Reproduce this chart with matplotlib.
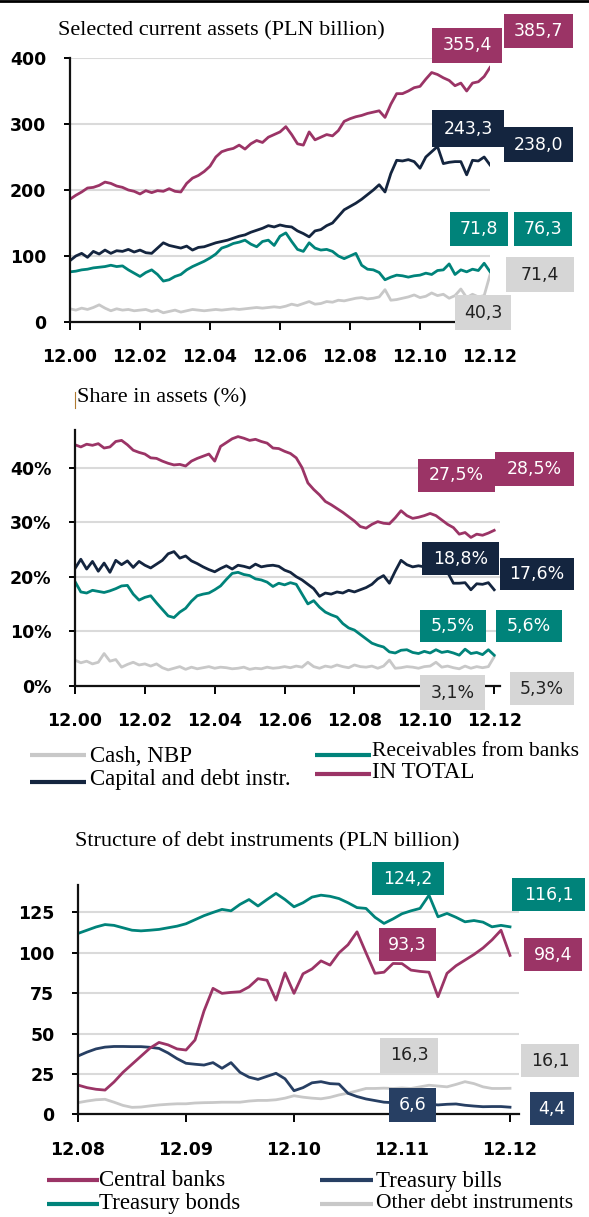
import numpy as np
import matplotlib
matplotlib.use("Agg")
import matplotlib.pyplot as plt
from matplotlib.lines import Line2D
from matplotlib.patches import Rectangle

# ---- data -------------------------------------------------------------
# top and middle panels: every 2 months from 12.00 (month 0) to 12.12 (month 144)
assets_total = [186, 192, 197, 203, 204, 207, 212, 210, 206, 204, 200, 198,
                194, 199, 196, 199, 198, 202, 198, 197, 210, 218, 222, 228,
                236, 250, 258, 261, 263, 268, 262, 270, 275, 272, 280, 284,
                288, 296, 284, 270, 268, 288, 276, 280, 284, 282, 290, 304,
                308, 311, 313, 316, 318, 320, 310, 330, 346, 346, 350, 355,
                357, 368, 378, 375, 370, 366, 358, 362, 350, 362, 364, 372,
                385.7]
assets_capital = [93, 100, 104, 98, 107, 103, 109, 104, 108, 107, 110, 106,
                  109, 105, 104, 112, 120, 116, 114, 112, 115, 109, 113, 114,
                  117, 120, 122, 124, 127, 130, 132, 136, 139, 142, 146, 144,
                  147, 145, 144, 138, 134, 129, 138, 140, 146, 150, 160, 170,
                  175, 180, 186, 193, 200, 208, 197, 225, 245, 244, 246, 243,
                  233, 250, 258, 266, 240, 242, 243, 243, 223, 245, 244, 250,
                  238.0]
assets_recv = [76, 77, 79, 80, 82, 83, 84, 86, 84, 85, 79, 74,
               69, 75, 79, 72, 62, 64, 69, 72, 79, 84, 88, 92,
               97, 103, 112, 115, 119, 121, 124, 118, 114, 122, 124, 116,
               130, 135, 122, 110, 107, 120, 112, 109, 110, 107, 100, 96,
               100, 104, 86, 80, 79, 75, 64, 68, 71, 70, 68, 70,
               71, 74, 72, 78, 79, 88, 72, 79, 76, 80, 78, 89,
               76.3]
assets_cash = [20, 18, 21, 19, 22, 26, 21, 17, 20, 18, 19, 17,
               18, 19, 16, 18, 14, 16, 18, 15, 17, 19, 18, 17,
               18, 19, 18, 19, 20, 19, 20, 21, 22, 21, 22, 23,
               22, 24, 27, 25, 28, 31, 27, 28, 31, 30, 33, 32,
               34, 36, 37, 35, 36, 38, 49, 33, 34, 36, 38, 41,
               37, 39, 44, 40, 42, 36, 40, 50, 37, 42, 38, 40,
               71.4]

share_total = [44.2, 43.8, 44.3, 44.1, 44.4, 43.6, 43.8, 44.8, 45.0, 44.2, 43.2, 42.8,
               42.5, 41.8, 41.7, 41.2, 40.8, 40.5, 40.6, 40.3, 41.2, 41.7, 42.1, 42.5,
               41.2, 43.9, 44.6, 45.3, 45.7, 45.4, 45.0, 45.2, 44.8, 44.5, 43.6, 43.5,
               43.0, 42.6, 41.8, 40.0, 37.2, 36.0, 35.0, 33.8, 33.2, 32.5, 31.8, 31.0,
               30.2, 29.2, 28.9, 29.6, 30.1, 29.8, 29.7, 30.8, 32.1, 31.2, 30.7, 30.9,
               31.2, 31.6, 31.2, 30.4, 29.6, 29.0, 27.8, 28.1, 27.2, 27.8, 27.6, 28.0,
               28.5]
share_capital = [21.5, 23.2, 21.4, 22.8, 21.0, 22.5, 20.8, 23.0, 22.2, 22.9, 21.7, 22.8,
                 22.1, 21.6, 22.3, 23.0, 24.2, 24.6, 23.4, 23.8, 22.9, 22.4, 21.8, 21.3,
                 20.9, 21.5, 22.0, 21.4, 22.1, 21.9, 21.6, 22.3, 21.8, 22.0, 22.1, 21.9,
                 21.2, 20.8, 20.0, 19.4, 18.6, 17.8, 16.4, 17.0, 16.8, 17.2, 17.0, 17.5,
                 17.2, 17.6, 18.0, 18.6, 19.6, 20.2, 18.8, 21.0, 23.0, 22.2, 21.8, 22.0,
                 21.8, 21.3, 22.0, 21.4, 20.8, 18.8, 18.8, 18.9, 17.6, 18.7, 18.6, 18.9,
                 17.6]
share_recv = [19.1, 17.2, 17.0, 17.5, 17.3, 17.1, 17.4, 17.8, 18.3, 18.4, 16.8, 15.7,
              16.2, 16.5, 15.2, 14.0, 12.8, 12.5, 13.5, 14.2, 15.5, 16.5, 16.8, 17.0,
              17.6, 18.3, 19.5, 20.6, 20.8, 20.4, 20.2, 19.6, 19.4, 19.0, 18.2, 18.8,
              18.5, 18.9, 18.6, 16.8, 15.0, 15.6, 14.4, 13.5, 13.0, 12.6, 11.4, 10.6,
              10.2, 9.4, 8.6, 7.8, 7.4, 7.1, 6.2, 6.0, 6.5, 6.6, 6.1, 5.9,
              6.3, 6.0, 6.6, 6.1, 6.3, 6.0, 5.6, 6.7, 5.9, 6.1, 5.7, 6.6,
              5.6]
share_cash = [4.7, 4.2, 4.5, 4.0, 4.3, 5.9, 4.5, 4.8, 3.4, 3.9, 4.3, 3.8,
              4.0, 3.6, 4.0, 3.3, 2.9, 3.2, 3.5, 3.0, 3.4, 3.1, 3.3, 3.5,
              3.2, 3.4, 3.3, 3.1, 3.2, 3.4, 3.0, 3.2, 3.1, 3.4, 3.2, 3.3,
              3.5, 3.3, 3.6, 3.4, 4.3, 3.5, 3.2, 3.6, 3.4, 3.8, 3.5, 3.3,
              3.8, 3.5, 3.4, 3.6, 3.2, 3.6, 4.7, 3.2, 3.3, 3.5, 3.4, 3.2,
              3.5, 3.6, 4.3, 3.4, 3.6, 3.3, 3.1, 3.6, 3.2, 3.5, 3.3, 3.5,
              5.3]

# bottom panel: monthly from 12.08 (month 0) to 12.12 (month 48)
debt_bonds = [112, 114, 116, 117.5, 117, 115.5, 114, 113.6, 114, 114.5, 115.5, 116.5,
              118, 120.5, 123, 125, 126.9, 126, 130, 133, 129, 133, 136.8, 133,
              128.5, 131, 134.5, 135.7, 135, 133.6, 131, 128, 127.5, 122, 118.2, 121,
              124.2, 126, 127.5, 135.7, 122.3, 124.4, 122, 119.2, 120, 119, 116.1, 117,
              116.1]
debt_central = [18.1, 16.5, 15.5, 15.0, 20, 26, 31, 36, 41, 44.5, 43, 40.5,
                39.8, 46, 64, 78, 74.9, 75.5, 75.9, 78.9, 84, 83, 70.7, 87.6,
                74.9, 87, 90, 95, 92.4, 100, 105, 113, 100, 87.3, 88, 93.4,
                93.3, 89.3, 88.5, 88, 72.8, 87.3, 92, 95.5, 99, 103, 108, 114,
                98.4]
debt_bills = [36.1, 38.5, 40.5, 41.6, 42, 42, 41.9, 41.9, 41.5, 40.8, 38, 34.5,
              31.6, 31, 30.5, 32, 28.5, 32, 26, 23, 21.6, 23.5, 25.4, 22,
              14.6, 16.5, 19.5, 20.2, 19, 18.7, 13, 11, 9.5, 8.5, 7.5, 7.2,
              6.6, 8.5, 7.2, 6.3, 5.8, 6.2, 6.4, 5.6, 5.1, 4.7, 4.8, 4.8,
              4.4]
debt_other = [7.2, 8.2, 9, 9.3, 7.5, 5.5, 4.3, 4.5, 5.2, 5.8, 6.2, 6.5,
              6.5, 7, 7.2, 7.3, 7.5, 7.5, 7.5, 8.2, 8.6, 8.6, 9, 10,
              11.5, 10.6, 10, 9.6, 10.5, 12, 13.1, 14.5, 16, 16, 16.2, 16,
              16.3, 16, 17, 18, 17.5, 17, 18.5, 20.2, 19, 17, 16, 16,
              16.1]

top_ticks = ["12.00", "12.02", "12.04", "12.06", "12.08", "12.10", "12.12"]
bottom_ticks = ["12.08", "12.09", "12.10", "12.11", "12.12"]

# boxed values: a year ago / latest
assets_prev = [355.4, 243.3, 71.8, 40.3]
assets_last = [385.7, 238.0, 76.3, 71.4]
share_prev = [27.5, 18.8, 5.5, 3.1]
share_last = [28.5, 17.6, 5.6, 5.3]
debt_prev = [124.2, 93.3, 16.3, 6.6]
debt_last = [116.1, 98.4, 16.1, 4.4]

PINK = "#9B3466"
NAVY = "#14253F"
TEAL = "#00837A"
GREY = "#C8C8C8"
BLUE = "#273F63"
BOXGREY = "#D6D6D6"

W, H = 589, 1217
fig = plt.figure(figsize=(W / 100, H / 100), dpi=100)
SERIF = "Liberation Serif"


def px_axes(x0, y_top, x1, y_bot):
    return fig.add_axes([x0 / W, 1 - y_bot / H, (x1 - x0) / W, (y_bot - y_top) / H])


def style(ax, yticks, ylabels, xt, xl):
    ax.set_yticks(yticks)
    ax.set_yticklabels(ylabels)
    ax.set_xticks(xt)
    ax.set_xticklabels(xl)
    for s in ["top", "right"]:
        ax.spines[s].set_visible(False)
    for s in ["left", "bottom"]:
        ax.spines[s].set_linewidth(1.6)
        ax.spines[s].set_color("#111111")
    ax.grid(axis="y", color="#DADADA", lw=1.5)
    ax.set_axisbelow(True)
    ax.tick_params(axis="y", length=4, width=1.4, pad=13, labelsize=12.5)
    ax.tick_params(axis="x", length=6, width=1.4, pad=13, labelsize=12.5)
    for t in ax.get_xticklabels() + ax.get_yticklabels():
        t.set_fontweight("bold")
        t.set_family("DejaVu Sans")


def fmt(v, pct=False):
    s = f"{v:.1f}".replace(".", ",")
    return s + "%" if pct else s


def box(x0, y0, x1, y1, text, face, tc="white"):
    fig.add_artist(Rectangle((x0 / W, 1 - y1 / H), (x1 - x0) / W, (y1 - y0) / H,
                             transform=fig.transFigure, facecolor=face, edgecolor="none"))
    fig.text((x0 + x1) / 2 / W, 1 - (y0 + y1) / 2 / H, text, color=tc, fontsize=12.5,
             ha="center", va="center", family="DejaVu Sans")


def fig_line(x0, x1, y, color):
    fig.add_artist(Line2D([x0 / W, x1 / W], [1 - y / H, 1 - y / H], color=color,
                          lw=3, transform=fig.transFigure, solid_capstyle="butt"))


def fig_text(x, y, s, size=16.5):
    fig.text(x / W, 1 - y / H, s, fontsize=size, family=SERIF, ha="left", va="center")


months = np.arange(len(assets_total)) * 2
debt_months = np.arange(len(debt_bonds))

# ---- top panel --------------------------------------------------------
ax1 = px_axes(70, 58, 490, 322)
ax1.plot(months, assets_cash, color=GREY, lw=2)
ax1.plot(months, assets_recv, color=TEAL, lw=2)
ax1.plot(months, assets_capital, color=NAVY, lw=2)
ax1.plot(months, assets_total, color=PINK, lw=2)
ax1.set_xlim(0, 144)
ax1.set_ylim(0, 400)
style(ax1, [0, 100, 200, 300, 400], ["0", "100", "200", "300", "400"],
      np.arange(0, 145, 24), top_ticks)
fig_text(58, 31, "Selected current assets (PLN billion)", 16)

box(432, 28, 502, 63, fmt(assets_prev[0]), PINK)
box(504, 14, 573, 48, fmt(assets_last[0]), PINK)
box(432, 110, 504, 147, fmt(assets_prev[1]), NAVY)
box(504, 127, 573, 162, fmt(assets_last[1]), NAVY)
box(450, 212, 508, 246, fmt(assets_prev[2]), TEAL)
box(514, 212, 572, 246, fmt(assets_last[2]), TEAL)
box(506, 257, 574, 292, fmt(assets_last[3]), BOXGREY, "#222222")
box(455, 295, 511, 330, fmt(assets_prev[3]), BOXGREY, "#222222")

# ---- middle panel -----------------------------------------------------
ax2 = px_axes(75, 429.5, 500, 685.7)
ax2.plot(months, share_cash, color=GREY, lw=2)
ax2.plot(months, share_recv, color=TEAL, lw=2)
ax2.plot(months, share_capital, color=NAVY, lw=2)
ax2.plot(months, share_total, color=PINK, lw=2)
ax2.set_xlim(0, 146)
ax2.set_ylim(0, 47)
style(ax2, [0, 10, 20, 30, 40], ["0%", "10%", "20%", "30%", "40%"],
      np.arange(0, 145, 24), top_ticks)
fig_text(77, 398, "Share in assets (%)", 16)
fig.add_artist(Line2D([75 / W, 75 / W], [1 - 392 / H, 1 - 408 / H], color="#B07A30",
                      lw=0.8, transform=fig.transFigure))

box(418, 459, 495, 492, fmt(share_prev[0], True), PINK)
box(495, 452, 574, 486, fmt(share_last[0], True), PINK)
box(422, 542, 499, 575, fmt(share_prev[1], True), NAVY)
box(500, 558, 574, 590, fmt(share_last[1], True), NAVY)
box(420, 610, 486, 642, fmt(share_prev[2], True), TEAL)
box(496, 610, 562, 642, fmt(share_last[2], True), TEAL)
box(420, 675, 485, 710, fmt(share_prev[3], True), BOXGREY, "#222222")
box(510, 672, 574, 705, fmt(share_last[3], True), BOXGREY, "#222222")

fig_line(30, 86, 755, GREY)
fig_text(90, 757, "Cash, NBP")
fig_line(30, 86, 782, NAVY)
fig_text(90, 779, "Capital and debt instr.")
fig_line(315, 371, 755, TEAL)
fig_text(372, 752, "Receivables from banks", 15.5)
fig_line(315, 371, 774, PINK)
fig_text(372, 773, "IN TOTAL")

# ---- bottom panel -----------------------------------------------------
ax3 = px_axes(78, 885, 519, 1114.3)
ax3.plot(debt_months, debt_other, color=GREY, lw=2)
ax3.plot(debt_months, debt_bills, color=BLUE, lw=2)
ax3.plot(debt_months, debt_central, color=PINK, lw=2)
ax3.plot(debt_months, debt_bonds, color=TEAL, lw=2)
ax3.set_xlim(0, 49)
ax3.set_ylim(0, 142)
style(ax3, [0, 25, 50, 75, 100, 125], ["0", "25", "50", "75", "100", "125"],
      np.arange(0, 49, 12), bottom_ticks)
fig_text(75, 842, "Structure of debt instruments (PLN billion)", 16)

box(372, 862, 444, 895, fmt(debt_prev[0]), TEAL)
box(512, 878, 585, 911, fmt(debt_last[0]), TEAL)
box(379, 928, 436, 961, fmt(debt_prev[1]), PINK)
box(524, 938, 582, 971, fmt(debt_last[1]), PINK)
box(380, 1038, 438, 1073, fmt(debt_prev[2]), BOXGREY, "#222222")
box(521, 1044, 579, 1077, fmt(debt_last[2]), BOXGREY, "#222222")
box(389, 1088, 436, 1122, fmt(debt_prev[3]), BLUE)
box(530, 1092, 574, 1125, fmt(debt_last[3]), BLUE)

fig_line(47, 99, 1180, PINK)
fig_text(99, 1181, "Central banks")
fig_line(320, 373, 1180, BLUE)
fig_text(376, 1181, "Treasury bills")
fig_line(47, 99, 1204, TEAL)
fig_text(99, 1204, "Treasury bonds")
fig_line(320, 373, 1204, GREY)
fig_text(376, 1204, "Other debt instruments", 15.5)

# thin black rule along the top edge
fig.add_artist(Line2D([0, 1], [1 - 1 / H, 1 - 1 / H], color="black", lw=2,
                      transform=fig.transFigure))

fig.savefig("out.png", dpi=100)
